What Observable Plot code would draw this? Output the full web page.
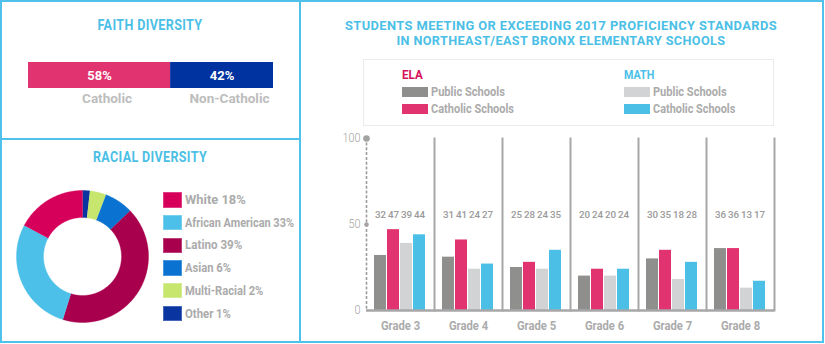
<!DOCTYPE html>
<html><head><meta charset="utf-8">
<script src="https://cdn.jsdelivr.net/npm/d3@7"></script>
<script src="https://cdn.jsdelivr.net/npm/@observablehq/plot@0.6"></script>
<style>
html,body{margin:0;padding:0;background:#fff;}
#root{position:relative;width:825px;height:344px;overflow:hidden;font-family:Roboto,"Liberation Sans",sans-serif;}
.abs{position:absolute;}
.txt{position:absolute;line-height:1;white-space:nowrap;font-weight:bold;}
.title{color:#4bbfe6;font-size:14px;letter-spacing:0.4px;}
.gray{color:#ababab;font-size:12.2px;}
.sw{position:absolute;}
</style></head>
<body><div id="root"></div>
<script>
// ---------- data ----------
const faithNames = ["Catholic", "Non-Catholic"];
const faithShares = [58, 42];
const faithColors = ["#e0336f", "#0033a0"];

const raceNames = ["White", "African American", "Latino", "Asian", "Multi-Racial", "Other"];
const raceLabelPct = [18, 33, 39, 6, 2, 1];
// slice sizes as drawn in the reference (clockwise from top)
const raceDrawOrder = ["Other", "Multi-Racial", "Asian", "Latino", "African American", "White"];
const raceDrawShares = [1.8, 4, 7, 42, 28, 17.2];
const raceColors = ["#d6005a", "#4cc0e8", "#a8004d", "#0a72d1", "#c6e66e", "#0a34a0"];

const grades = ["Grade 3", "Grade 4", "Grade 5", "Grade 6", "Grade 7", "Grade 8"];
const seriesNames = ["ELA Public Schools", "ELA Catholic Schools", "Math Public Schools", "Math Catholic Schools"];
const elaPublic = [32, 31, 25, 20, 30, 36];
const elaCatholic = [47, 41, 28, 24, 35, 36];
const mathPublic = [39, 24, 24, 20, 18, 13];
const mathCatholic = [44, 27, 35, 24, 28, 17];
const seriesColors = ["#8f8f8d", "#e0336f", "#d2d3d5", "#4bbfe6"];
const yTicks = [0, 50, 100];

const FONT = 'Roboto,"Liberation Sans",sans-serif';
const root = document.getElementById("root");
function el(tag, cls, css, text) {
  const e = document.createElement(tag);
  if (cls) e.className = cls;
  Object.assign(e.style, css || {});
  if (text != null) e.textContent = text;
  root.appendChild(e);
  return e;
}
function place(node, left, top) {
  node.style.position = "absolute"; node.style.left = left + "px"; node.style.top = top + "px";
  root.appendChild(node);
  return node;
}
// condensed text: real text, horizontally scaled to the reference's condensed face
function label(str, x, y, w, cls, css, anchor) {
  const d = el("div", "txt " + (cls || ""), Object.assign({left: x + "px", top: y + "px"}, css || {}), str);
  const nat = d.getBoundingClientRect().width;
  const s = w / nat;
  if (anchor === "start") { d.style.transformOrigin = "0 50%"; d.style.transform = `translate(0,-50%) scaleX(${s})`; }
  else { d.style.transformOrigin = "50% 50%"; d.style.transform = `translate(-50%,-50%) scaleX(${s})`; }
  return d;
}
function fitSvg(svg, aria, widthOf) {
  svg.querySelectorAll(`g[aria-label="${aria}"] text`).forEach(t => {
    const L = t.getComputedTextLength();
    if (!L) return;
    const s = widthOf(t.textContent) / L;
    t.setAttribute("transform", (t.getAttribute("transform") || "") + ` scale(${s},1)`);
  });
}

// ---------- frame lines ----------
const B = "#4fc1ea";
el("div", "abs", {left: "0px", top: "0px", width: "824px", height: "343px", border: "2px solid " + B, boxSizing: "border-box"});
el("div", "abs", {left: "299px", top: "0px", width: "2px", height: "343px", background: B});
el("div", "abs", {left: "0px", top: "138px", width: "300px", height: "2px", background: B});

// ---------- faith diversity ----------
label("FAITH DIVERSITY", 150, 24.5, 105, "title");
const faith = faithNames.map((n, i) => ({name: n, share: faithShares[i]}));
const faithW = {"Catholic": 40, "Non-Catholic": 64};
const faithSvg = place(Plot.plot({
  width: 245, height: 52, marginTop: 0, marginBottom: 26, marginLeft: 0, marginRight: 0,
  style: {fontFamily: FONT, background: "transparent", overflow: "visible"},
  x: {domain: [0, 100], axis: null},
  color: {domain: faithNames, range: faithColors},
  marks: [
    Plot.barX(faith, Plot.stackX({x: "share", fill: "name"})),
    Plot.text(faith, Plot.stackX({x: "share", text: d => d.share + "%", fill: "white", fontSize: 13, fontWeight: "bold", ariaLabel: "pct"})),
    Plot.text(faith, Plot.stackX({x: "share", text: "name", fill: "#bdbdbd", fontSize: 13.5, fontWeight: "bold", frameAnchor: "bottom", dx: 7.5, dy: 14.5, ariaLabel: "faith-names"}))
  ]
}), 28, 62);
fitSvg(faithSvg, "pct", () => 24);
fitSvg(faithSvg, "faith-names", s => faithW[s]);

// ---------- racial diversity ----------
label("RACIAL DIVERSITY", 150, 157, 114, "title");
const arcs = d3.pie().sort(null).value(d => d.share)(raceDrawOrder.map((n, i) => ({name: n, share: raceDrawShares[i]})));
const inner = 39 / 66;
const pts = [];
for (const a of arcs) {
  const n = Math.max(2, Math.ceil((a.endAngle - a.startAngle) / 0.01));
  for (let k = 0; k <= n; k++) { const t = a.startAngle + (a.endAngle - a.startAngle) * k / n; pts.push({name: a.data.name, x: Math.sin(t), y: Math.cos(t)}); }
  for (let k = n; k >= 0; k--) { const t = a.startAngle + (a.endAngle - a.startAngle) * k / n; pts.push({name: a.data.name, x: inner * Math.sin(t), y: inner * Math.cos(t)}); }
}
place(Plot.plot({
  width: 136, height: 136, margin: 2,
  style: {background: "transparent"},
  x: {domain: [-1, 1], axis: null}, y: {domain: [-1, 1], axis: null},
  color: {domain: raceNames, range: raceColors},
  marks: [Plot.line(pts, {x: "x", y: "y", z: "name", fill: "name", stroke: "name", strokeWidth: 0.4})]
}), 14, 188);
const raceTextW = [60.7, 109, 57.3, 46, 78.3, 46];
raceNames.forEach((n, i) => {
  const cy = 200 + i * 22.7;
  el("div", "sw", {left: "163px", top: (cy - 7.7) + "px", width: "19px", height: "15.4px", background: raceColors[i], boxSizing: "border-box", border: "1px solid rgba(255,255,255,0.25)"});
  label(n + " " + raceLabelPct[i] + "%", 185, cy, raceTextW[i], "gray", null, "start");
});

// ---------- proficiency chart ----------
label("STUDENTS MEETING OR EXCEEDING 2017 PROFICIENCY STANDARDS", 561, 24.8, 432, "title", {fontSize: "13px"});
label("IN NORTHEAST/EAST BRONX ELEMENTARY SCHOOLS", 561.2, 40, 329, "title", {fontSize: "13px"});
el("div", "abs", {left: "363px", top: "59px", width: "411px", height: "67px", border: "1.5px solid #ebebeb", boxSizing: "border-box"});
const legendCols = [
  {head: "ELA", color: "#d6105b", x: 402, hw: 20.7, items: [0, 1], iw: [74, 83]},
  {head: "MATH", color: "#4bbfe6", x: 624, hw: 30.3, items: [2, 3], iw: [73.7, 82.3]}
];
legendCols.forEach(c => {
  label(c.head, c.x, 75, c.hw, "", {color: c.color, fontSize: "12.5px"}, "start");
  c.items.forEach((s, j) => {
    const cy = 92.3 + j * 16.6;
    el("div", "sw", {left: c.x + "px", top: (cy - 5) + "px", width: "26px", height: "10px", background: seriesColors[s]});
    label(seriesNames[s].replace(/^(ELA|Math) /, ""), c.x + 29, cy, c.iw[j], "gray", null, "start");
  });
});

const rows = [];
grades.forEach((g, i) => {
  [elaPublic, elaCatholic, mathPublic, mathCatholic].forEach((arr, s) => rows.push({grade: g, series: seriesNames[s], value: arr[i]}));
});
const axisGray = "#a7a7a9";
const barSvg = place(Plot.plot({
  width: 480, height: 215, marginTop: 10, marginBottom: 33, marginLeft: 44, marginRight: 24,
  style: {fontFamily: FONT, background: "transparent", overflow: "visible"},
  fx: {domain: grades, padding: 0, label: null, axis: null},
  x: {domain: seriesNames, paddingInner: 0.07, paddingOuter: 0.54, axis: null},
  y: {domain: [0, 100], axis: null},
  color: {domain: seriesNames, range: seriesColors},
  marks: [
    Plot.frame({anchor: "right", stroke: axisGray, strokeWidth: 2}),
    Plot.frame({anchor: "left", fx: grades[0], stroke: "#9d9d9d", strokeWidth: 1.6, strokeDasharray: "1.4,3.4"}),
    Plot.barY(rows, {fx: "grade", x: "series", y: "value", fill: "series"}),
    Plot.text(rows, {fx: "grade", x: "series", text: "value", frameAnchor: "top", dy: 72.7, fill: "#9a9a9a", fontSize: 9.8, fontWeight: 500, ariaLabel: "values"}),
    Plot.ruleY([0], {stroke: axisGray, strokeWidth: 2.5}),
    Plot.dot(yTicks.filter(v => v === 100), {fx: () => grades[0], y: d => d, frameAnchor: "left", r: 3.3, fill: "#a3a3a3"}),
    Plot.dot(yTicks.filter(v => v === 50), {fx: () => grades[0], y: d => d, frameAnchor: "left", r: 2.3, fill: "#a3a3a3"}),
    Plot.axisY({ticks: yTicks, tickSize: 0, tickPadding: 6, fontSize: 12, fontWeight: 300, color: "#a3a3a3", label: null}),
    Plot.axisFx({anchor: "bottom", tickSize: 0, tickPadding: 10, fontSize: 13, fontWeight: "bold", color: "#ababab", label: null})
  ]
}), 320, 128);
fitSvg(barSvg, "values", s => 4.85 * s.length);
fitSvg(barSvg, "fx-axis tick label", () => 39.3);
fitSvg(barSvg, "y-axis tick label", s => 6 * s.length);
</script>
</body></html>
